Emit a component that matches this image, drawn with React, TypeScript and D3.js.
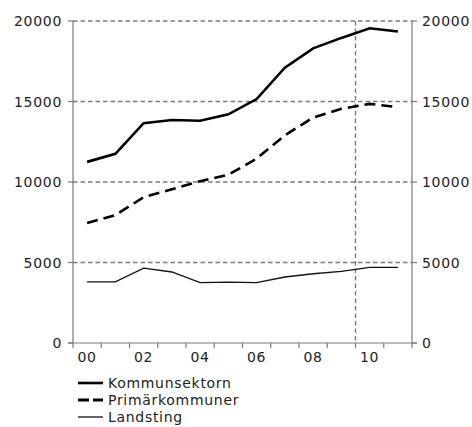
import { useEffect, useRef } from 'react';
import * as d3 from 'd3';

const years = ['00', '01', '02', '03', '04', '05', '06', '07', '08', '09', '10', '11'];
const tickLabels = ['00', '02', '04', '06', '08', '10'];
const yTicks = [0, 5000, 10000, 15000, 20000];

const kommunsektorn = [11250, 11750, 13650, 13850, 13800, 14200, 15150, 17100, 18300, 18950, 19550, 19350];
const primarkommuner = [7450, 7950, 9050, 9550, 10050, 10450, 11450, 12900, 14000, 14550, 14850, 14650];
const landsting = [3800, 3800, 4650, 4410, 3750, 3780, 3750, 4100, 4300, 4450, 4700, 4700];

const seriesNames = ['Kommunsektorn', 'Primärkommuner', 'Landsting'];

export default function App() {
  const svgRef = useRef<SVGSVGElement>(null);
  const width = 472;
  const height = 427;

  useEffect(() => {
    if (!svgRef.current) return;
    const svg = d3.select(svgRef.current);
    svg.selectAll('*').remove();

    const left = 73;
    const right = 412;
    const top = 21;
    const bottom = 343;
    const grey = '#7a7a7a';
    const font = '"DejaVu Sans", Verdana, sans-serif';

    const x = d3.scaleBand<string>().domain(years).range([left, right]).padding(0);
    const y = d3.scaleLinear().domain([0, 20000]).range([bottom, top]);
    const cx = (d: string) => (x(d) || 0) + x.bandwidth() / 2;

    // grid lines
    svg.append('g')
      .selectAll('line')
      .data(yTicks.filter(t => t > 0))
      .enter().append('line')
      .attr('x1', left).attr('x2', right)
      .attr('y1', d => y(d)).attr('y2', d => y(d))
      .attr('stroke', grey)
      .attr('stroke-width', 1.4)
      .attr('stroke-dasharray', '4.5,3');

    // vertical dashed marker before 2010
    svg.append('line')
      .attr('x1', x('10') || 0).attr('x2', x('10') || 0)
      .attr('y1', top).attr('y2', bottom)
      .attr('stroke', grey)
      .attr('stroke-width', 1.4)
      .attr('stroke-dasharray', '4.5,3');

    // axes
    const axes = svg.append('g').attr('stroke', grey).attr('stroke-width', 1.2);
    axes.append('line').attr('x1', left).attr('x2', left).attr('y1', top).attr('y2', bottom);
    axes.append('line').attr('x1', right).attr('x2', right).attr('y1', top).attr('y2', bottom);
    axes.append('line').attr('x1', left - 5).attr('x2', right + 5).attr('y1', bottom).attr('y2', bottom);
    yTicks.forEach(t => {
      axes.append('line').attr('x1', left - 5).attr('x2', left).attr('y1', y(t)).attr('y2', y(t));
      axes.append('line').attr('x1', right).attr('x2', right + 5).attr('y1', y(t)).attr('y2', y(t));
    });
    years.concat(['end']).forEach((d, i) => {
      const xp = i < years.length ? (x(d) || 0) : right;
      axes.append('line').attr('x1', xp).attr('x2', xp).attr('y1', bottom).attr('y2', bottom + 5);
    });

    const textStyle = (sel: d3.Selection<SVGTextElement, any, any, any>) =>
      sel.style('font-family', font).style('font-size', '14px')
        .style('letter-spacing', '0.7px').style('fill', '#222');

    // y labels
    svg.append('g').selectAll('text').data(yTicks).enter().append('text')
      .attr('x', left - 11).attr('y', d => y(d)).attr('dy', '0.36em')
      .attr('text-anchor', 'end').text(d => String(d))
      .call(textStyle);
    svg.append('g').selectAll('text').data(yTicks).enter().append('text')
      .attr('x', right + 10).attr('y', d => y(d)).attr('dy', '0.36em')
      .attr('text-anchor', 'start').text(d => String(d))
      .call(textStyle);

    // x labels
    svg.append('g').selectAll('text').data(tickLabels).enter().append('text')
      .attr('x', d => cx(d)).attr('y', 362)
      .attr('text-anchor', 'middle').text(d => d)
      .call(textStyle);

    // lines
    const line = d3.line<number>()
      .x((d, i) => cx(years[i]))
      .y(d => y(d));

    svg.append('path').datum(landsting)
      .attr('fill', 'none').attr('stroke', '#111').attr('stroke-width', 1.3)
      .attr('d', line);
    svg.append('path').datum(primarkommuner)
      .attr('fill', 'none').attr('stroke', '#000').attr('stroke-width', 2.6)
      .attr('stroke-dasharray', '11,6')
      .attr('d', line);
    svg.append('path').datum(kommunsektorn)
      .attr('fill', 'none').attr('stroke', '#000').attr('stroke-width', 2.6)
      .attr('d', line);

    // legend
    const legend = svg.append('g');
    const styles = [
      { w: 2.6, dash: null },
      { w: 2.8, dash: '11,4' },
      { w: 1.2, dash: null },
    ];
    seriesNames.forEach((name, i) => {
      const ly = 383 + i * 17;
      const l = legend.append('line')
        .attr('x1', 78).attr('x2', 103).attr('y1', ly).attr('y2', ly)
        .attr('stroke', '#000').attr('stroke-width', styles[i].w);
      if (styles[i].dash) l.attr('stroke-dasharray', styles[i].dash as string);
      legend.append('text')
        .attr('x', 108).attr('y', ly).attr('dy', '0.36em')
        .text(name)
        .call(textStyle);
    });
  }, []);

  return (
    <svg
      ref={svgRef}
      width={width}
      height={height}
      style={{ position: 'absolute', left: 0, top: 0, background: '#fff' }}
    />
  );
}
